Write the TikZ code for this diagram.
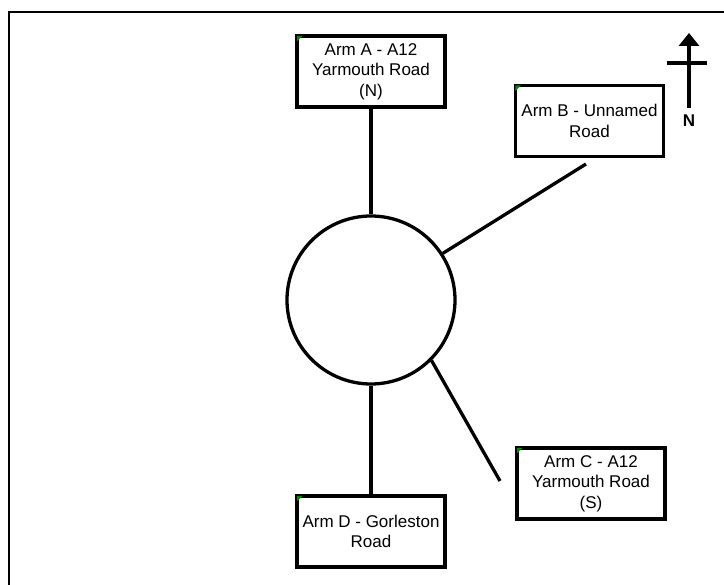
\documentclass[tikz,border=0pt]{standalone}
\usepackage{fontspec}
\setmainfont{Liberation Sans}
\usepackage{tikz}
\usetikzlibrary{arrows.meta,positioning}

\tikzset{
  armbox/.style={draw, rectangle, line width=3.2pt, fill=white, minimum width=148pt,
    minimum height=71pt, align=center, inner sep=2pt,
    font=\fontsize{17}{20.5}\selectfont},
  road/.style={line width=3.3pt},
  marker/.style={fill=green!55!black}
}

\begin{document}
\begin{tikzpicture}[x=1pt, y=-1pt]
\useasboundingbox (0,0) rectangle (724,585);

% Frame
\draw[line width=2pt] (8.5,585) -- (8.5,12.5) -- (724,12.5);

% Roundabout
\node[draw, circle, line width=3.3pt, minimum size=168pt] (rb) at (371,300) {};

% Arms
\node[armbox] (armA) at (371,71.5) {Arm A - A12\\Yarmouth Road\\(N)};
\node[armbox] (armB) at (589.5,121) {Arm B - Unnamed\\Road};
\node[armbox] (armC) at (591,483.5) {Arm C - A12\\Yarmouth Road\\(S)};
\node[armbox] (armD) at (371,531.5) {Arm D - Gorleston\\Road};

% Comment markers
\foreach \a in {armA,armB,armC,armD}
  \fill[marker] (\a.north west) ++(1.5,1.5) -- ++(5.5,0) -- ++(-5.5,5.5) -- cycle;

% Road ends
\coordinate (endB) at (586,164);
\coordinate (endC) at (500,481);

% Roads
\draw[road] (armA.south) -- (rb.north);
\draw[road] (rb.33) -- (endB);
\draw[road] (rb.-45) -- (endC);
\draw[road] (rb.south) -- (armD.north);

% North arrow
\coordinate (nbase) at (689,108);
\coordinate (ntip) at (689,33);
\draw[line width=3.3pt, -{Triangle[width=20pt,length=13pt]}] (nbase) -- (ntip);
\draw[line width=3.3pt] (667,63) -- (707,63);
\node[font=\fontsize{17}{17}\selectfont\bfseries] (north) at (689,121) {N};
\end{tikzpicture}
\end{document}
